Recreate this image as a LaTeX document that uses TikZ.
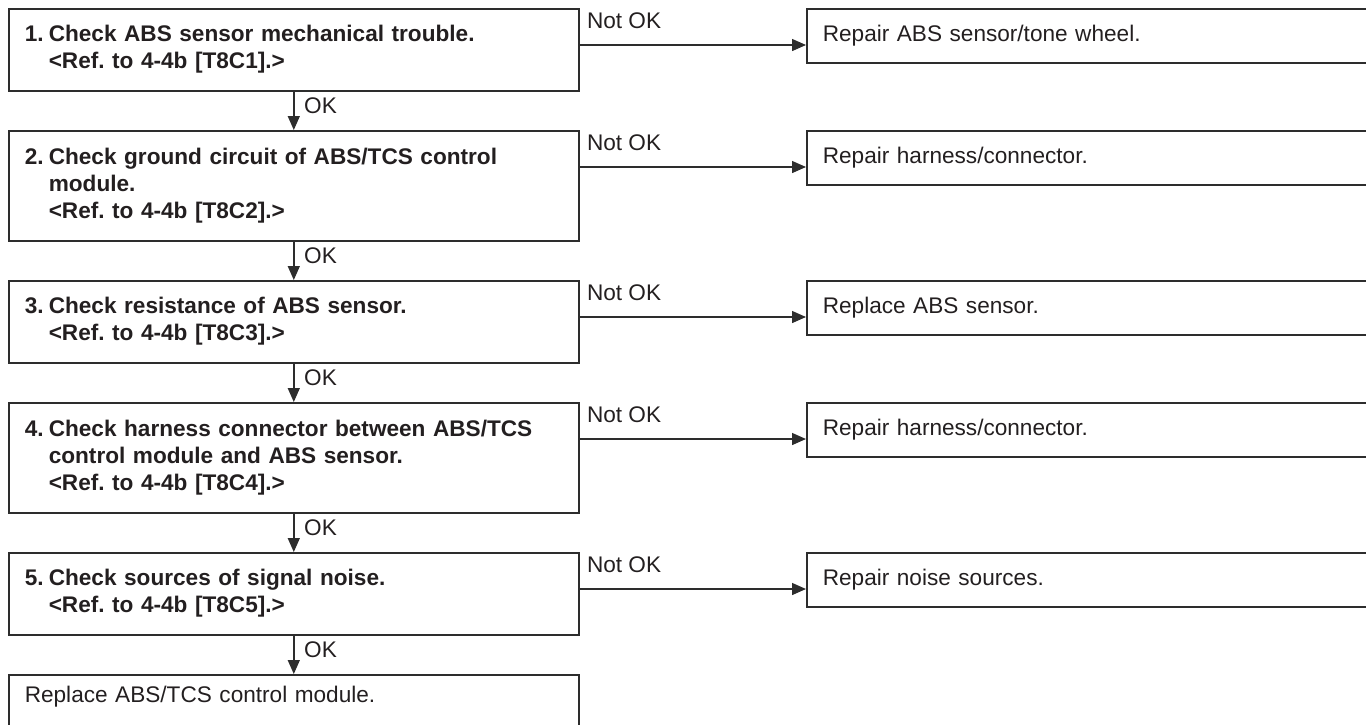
\documentclass[tikz,border=0pt]{standalone}
\usepackage{fontspec}
\setmainfont{Liberation Sans}
\usetikzlibrary{arrows.meta, positioning}
\definecolor{box_gray}{RGB}{45,45,45}
\definecolor{text_black}{RGB}{35,31,32}
\frenchspacing
\newcommand{\steptext}[2]{\makebox[12pt][l]{#1}\begin{tabular}[t]{@{}l@{}}#2\end{tabular}}

\begin{document}
\begin{tikzpicture}[x=0.5pt, y=-0.5pt, >={Triangle[length=7pt, width=6pt]},
  every node/.style={font=\fontsize{11.3}{13.5}\selectfont, text=text_black},
  checkbox/.style={draw=box_gray, line width=0.8pt, anchor=north west, text width=269pt, inner xsep=8pt, inner ysep=0pt, align=left, font=\fontsize{11.3}{13.5}\selectfont\bfseries},
  fixbox/.style={draw=box_gray, line width=0.8pt, anchor=north west, text width=271pt, inner xsep=8pt, inner ysep=0pt, minimum height=27pt, align=left},
  lastbox/.style={draw=box_gray, line width=0.8pt, anchor=north west, text width=269pt, inner xsep=8pt, inner ysep=4pt, text height=10pt, text depth=40pt, align=left},
  flowline/.style={draw=box_gray, line width=0.7pt},
  lbl/.style={inner sep=0pt, anchor=base west}]
  \useasboundingbox (0,0) rectangle (1366,724);

  % checks on the left
  \node[checkbox, minimum height=41pt] (c1) at (8,8) {\steptext{1.}{Check ABS sensor mechanical trouble.\\<Ref. to 4-4b [T8C1].>}};
  \node[checkbox, minimum height=55pt] (c2) at (8,130) {\steptext{2.}{Check ground circuit of ABS/TCS control\\module.\\<Ref. to 4-4b [T8C2].>}};
  \node[checkbox, minimum height=41pt] (c3) at (8,280) {\steptext{3.}{Check resistance of ABS sensor.\\<Ref. to 4-4b [T8C3].>}};
  \node[checkbox, minimum height=55pt] (c4) at (8,402) {\steptext{4.}{Check harness connector between ABS/TCS\\control module and ABS sensor.\\<Ref. to 4-4b [T8C4].>}};
  \node[checkbox, minimum height=41pt] (c5) at (8,552) {\steptext{5.}{Check sources of signal noise.\\<Ref. to 4-4b [T8C5].>}};
  \node[lastbox] (c6) at (8,674) {Replace ABS/TCS control module.};

  % repairs on the right
  \node[fixbox] (r1) at (806,8) {Repair ABS sensor/tone wheel.};
  \node[fixbox] (r2) at (806,130) {Repair harness/connector.};
  \node[fixbox] (r3) at (806,280) {Replace ABS sensor.};
  \node[fixbox] (r4) at (806,402) {Repair harness/connector.};
  \node[fixbox] (r5) at (806,552) {Repair noise sources.};

  \foreach \a/\b/\n in {c1/c2/1, c2/c3/2, c3/c4/3, c4/c5/4, c5/c6/5} {
    \draw[->, flowline] (\a) -- (\b);
    \node[lbl] (ok\n) at ([xshift=5pt, yshift=-11pt]\a.south) {OK};
  }
  \foreach \n in {1,...,5} {
    \draw[->, flowline] ([yshift=-18.5pt]c\n.north east) -- ([yshift=-18.5pt]r\n.north west);
    \node[lbl] (nok\n) at ([xshift=3.5pt, yshift=-10pt]c\n.north east) {Not OK};
  }
\end{tikzpicture}
\end{document}
